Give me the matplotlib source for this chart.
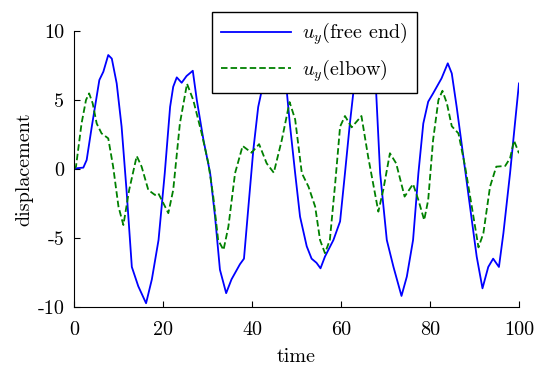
import matplotlib
matplotlib.use("Agg")
import matplotlib.pyplot as plt

plt.rcParams['font.family'] = 'serif'
plt.rcParams['font.serif'] = ['cmr10', 'DejaVu Serif']
plt.rcParams['mathtext.fontset'] = 'cm'
plt.rcParams['axes.unicode_minus'] = False

# values
t_free = [0, 0.45, 2.1, 2.85, 4.0, 5.7, 6.6, 7.7, 8.5, 9.6, 10.7, 11.8, 13.0,
          14.45, 16.2, 17.5, 19.0, 20.4, 21.6, 22.3, 23.1, 24.2, 25.3, 26.7,
          27.6, 29.1, 30.6, 31.7, 32.8, 34.2, 35.4, 37.3, 38.2, 39.2, 40.3,
          41.4, 42.2, 43.5, 45.0, 46.6, 47.8, 48.5, 49.7, 50.8, 52.3, 53.4,
          54.5, 55.4, 56.4, 58.3, 59.8, 60.9, 62.0, 62.8, 64.0, 65.3, 66.7,
          67.9, 68.8, 70.3, 71.8, 73.6, 74.8, 76.2, 77.4, 78.5, 79.6, 80.7,
          82.6, 84.0, 84.9, 86.0, 87.5, 89.0, 90.5, 91.8, 93.1, 94.2, 95.5,
          96.5, 98.0, 99.1, 100]
u_free = [0, 0.05, 0.1, 0.65, 3.07, 6.45, 7.05, 8.26, 8.0, 6.2, 3.07, -1.5, -7.1,
          -8.5, -9.73, -8.0, -5.15, -0.3, 4.5, 5.96, 6.64, 6.25, 6.74, 7.12,
          5.0, 2.1, -0.3, -3.45, -7.3, -9.0, -8.0, -6.9, -6.5, -2.73, 1.38,
          4.5, 5.7, 8.2, 9.5, 8.5, 5.7, 3.3, -0.3, -3.45, -5.6, -6.5,
          -6.8, -7.2, -6.35, -5.15, -3.8, -0.3, 3.3, 5.6, 8.2, 9.0, 8.2,
          5.6, -0.3, -5.15, -7.1, -9.2, -7.8, -5.15, -0.3, 3.3, 4.88, 5.48,
          6.57, 7.66, 6.93, 4.5, 0.9, -2.73, -6.35, -8.65, -7.1, -6.5, -7.1,
          -4.66, -0.3, 3.3, 6.2]

t_elbow = [0, 0.45, 1.7, 2.7, 3.4, 4.2, 5.1, 6.2, 7.7, 8.8, 10.0, 11.1, 12.4,
           14.1, 15.2, 16.7, 18.2, 18.95, 20.1, 21.2, 22.3, 23.8, 25.4, 26.8,
           28.7, 30.2, 31.3, 32.4, 33.6, 34.7, 36.2, 37.9, 39.9, 41.6, 43.3,
           44.9, 46.7, 48.45, 49.7, 51.2, 52.7, 54.2, 55.3, 56.4, 57.5, 58.7,
           59.8, 60.9, 62.4, 64.6, 66.1, 68.4, 69.5, 71.0, 72.4, 74.3, 76.2,
           77.4, 78.7, 79.6, 80.7, 81.9, 82.8, 83.8, 84.9, 86.4, 87.9, 89.4,
           90.9, 92.0, 93.5, 94.9, 96.9, 98.0, 98.9, 100]
u_elbow = [0, 0.17, 3.3, 5.0, 5.48, 4.76, 3.3, 2.58, 2.22, 0.17, -2.73, -4.06, -1.52,
           0.94, 0.17, -1.52, -1.88, -1.76, -2.49, -3.2, -1.52, 3.3, 6.18, 5.0,
           2.58, 0.41, -2.0, -5.15, -5.87, -4.18, -0.3, 1.67, 1.18, 1.8, 0.41,
           -0.27, 2.1, 4.85, 3.6, -0.3, -1.28, -2.73, -5.15, -6.1, -5.15, -1.04,
           3.07, 3.84, 3.02, 3.84, 0.9, -3.09, -1.52, 1.14, 0.41, -2.0, -1.09,
           -2.25, -3.7, -2.25, 2.1, 5.0, 5.67, 4.76, 3.1, 2.58, 0.17, -2.73,
           -5.68, -4.66, -1.28, 0.17, 0.22, 0.78, 2.05, 1.14]

fig = plt.figure(figsize=(5.42, 3.65), dpi=100)
ax = fig.add_axes([0.1365, 0.159, 0.821, 0.756])

ax.plot(t_free, u_free, color='#0000ff', lw=1.3, label=r'$u_y$(free end)')
ax.plot(t_elbow, u_elbow, color='#008000', lw=1.3, ls='--', dashes=(3.6, 1.7),
        label=r'$u_y$(elbow)')

ax.set_xlim(0, 100)
ax.set_ylim(-10, 10)
ax.set_xticks([0, 20, 40, 60, 80, 100])
ax.set_yticks([-10, -5, 0, 5, 10])
ax.set_yticklabels(['-10', '-5', '0', '5', '10'])
ax.tick_params(direction='in', labelsize=14.5, length=4, top=False, right=False)
ax.tick_params(axis='x', pad=10)
ax.tick_params(axis='y', pad=7)
ax.spines['top'].set_visible(False)
ax.spines['right'].set_visible(False)
ax.set_xlabel('time', fontsize=14.5, labelpad=7)
ax.set_ylabel('displacement', fontsize=14.5, labelpad=3)

leg = ax.legend(loc='upper center', bbox_to_anchor=(0.54, 1.107), fontsize=14.5,
                fancybox=False, edgecolor='black', framealpha=1,
                handlelength=3.5, handletextpad=0.55, borderpad=0.45,
                labelspacing=0.5)
leg.get_frame().set_linewidth(1.0)

fig.savefig('out.png', dpi=100)
